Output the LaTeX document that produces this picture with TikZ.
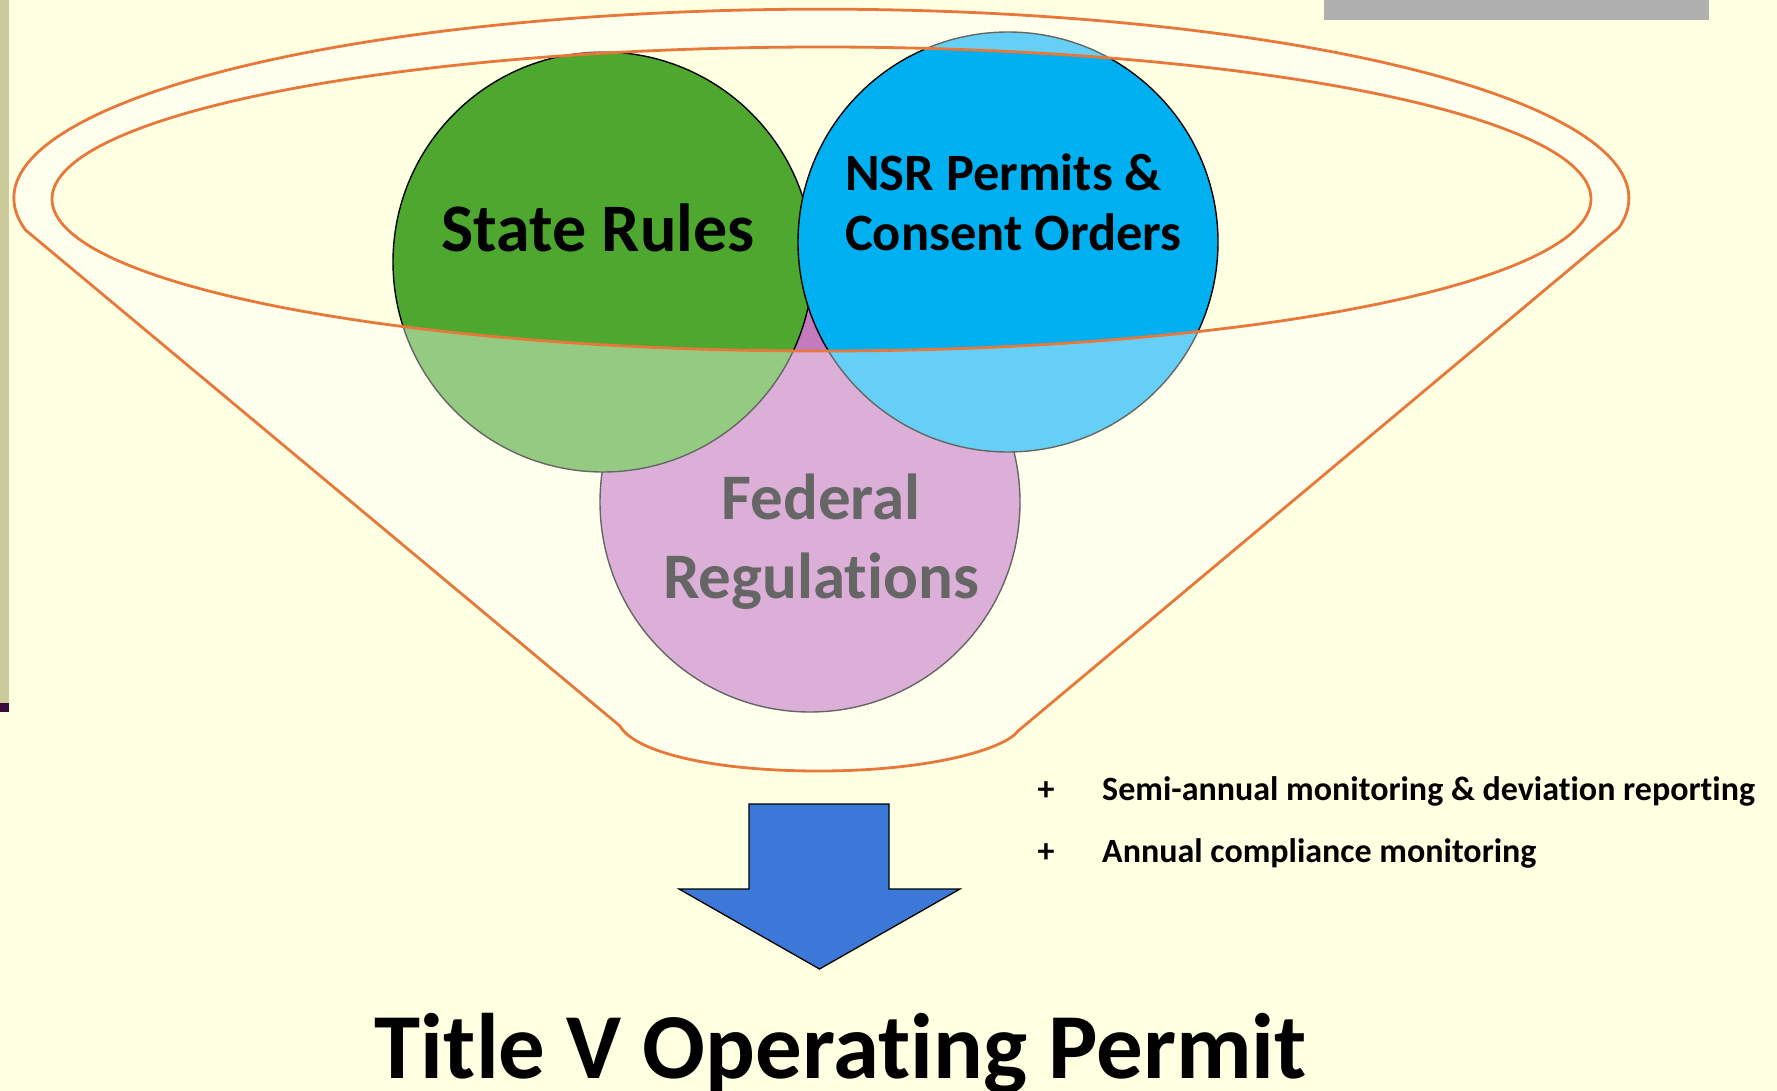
\documentclass[tikz,border=0pt]{standalone}
\usepackage{fontspec}
\setmainfont{Carlito}[Ligatures=NoCommon]
\definecolor{bg}{HTML}{FFFFE1}
\definecolor{khaki}{HTML}{CCC99A}
\definecolor{plum}{HTML}{3B0A3B}
\definecolor{grayrect}{HTML}{AFAFAF}
\definecolor{greenc}{HTML}{4EA72E}
\definecolor{bluec}{HTML}{00B0F0}
\definecolor{pinkc}{HTML}{C37BBD}
\definecolor{funnelline}{HTML}{E8773A}
\definecolor{arrowblue}{HTML}{3C78D8}
\begin{document}
\begin{tikzpicture}[x=1pt,y=-1pt,
  venn/.style={circle, draw=black, line width=1.4pt, minimum size=420pt, inner sep=0pt},
  lbl/.style={inner sep=0pt, text=black, font=\bfseries},
  funnelstroke/.style={draw=funnelline, line width=2.8pt},
]
\fill[bg] (0,0) rectangle (1777,1091);
\useasboundingbox (0,0) rectangle (1777,1091);
\fill[khaki] (0,0) rectangle (9,703);
\fill[plum] (0,703) rectangle (9,712);
\fill[grayrect] (1324,0) rectangle (1709,20);

% circles
\node[venn, fill=pinkc] (fed) at (810,502) {};
\node[lbl, anchor=base, font=\bfseries\fontsize{65}{65}\selectfont] (fed1) at (821,519) {Federal};
\node[lbl, anchor=base, font=\bfseries\fontsize{65}{65}\selectfont] (fed2) at (821,598) {Regulations};
\node[venn, fill=greenc] (state) at (603,262) {};
\node[venn, fill=bluec] (nsr) at (1008,242) {};
\node[lbl, anchor=base, font=\bfseries\fontsize{68}{68}\selectfont] (statet) at (598,252) {State Rules};
\node[lbl, anchor=base west, font=\bfseries\fontsize{52.5}{52.5}\selectfont] (nsr1) at (845,191) {NSR Permits \&};
\node[lbl, anchor=base west, font=\bfseries\fontsize{52.5}{52.5}\selectfont] (nsr2) at (845,251) {Consent Orders};

% funnel body (translucent)
\path[fill=white, fill opacity=0.4, even odd rule]
  (25.5,230) arc[start angle=170.3, end angle=369.1, x radius=807.5, y radius=189]
  -- (1018,731) .. controls (1005,749) and (930,771) .. (819,771)
  .. controls (708,771) and (634,751) .. (620,726) -- cycle
  (821.5,199) ellipse [x radius=769.5, y radius=152];
\draw[funnelstroke, line join=round]
  (25.5,230) arc[start angle=170.3, end angle=369.1, x radius=807.5, y radius=189]
  -- (1018,731) .. controls (1005,749) and (930,771) .. (819,771)
  .. controls (708,771) and (634,751) .. (620,726) -- cycle;
\draw[funnelstroke] (821.5,199) ellipse [x radius=769.5, y radius=152];

% arrow
\draw[fill=arrowblue, draw=black, line width=1.3pt, line join=miter]
  (749,804) -- (889,804) -- (889,889) -- (960,889) -- (819.5,969)
  -- (679,889) -- (749,889) -- cycle;

% bullets
\node[lbl, anchor=base, font=\bfseries\fontsize{34}{34}\selectfont] (p1) at (1046,800) {+};
\node[lbl, anchor=base west, font=\bfseries\fontsize{34}{34}\selectfont] (b1) at (1102,800) {Semi-annual monitoring \& deviation reporting};
\node[lbl, anchor=base, font=\bfseries\fontsize{34}{34}\selectfont] (p2) at (1046,862) {+};
\node[lbl, anchor=base west, font=\bfseries\fontsize{34}{34}\selectfont] (b2) at (1102,862) {Annual compliance monitoring};

% title
\node[lbl, anchor=base, font=\bfseries\fontsize{93}{93}\selectfont] (title) at (841,1078) {Title V Operating Permit};
\end{tikzpicture}
\end{document}
